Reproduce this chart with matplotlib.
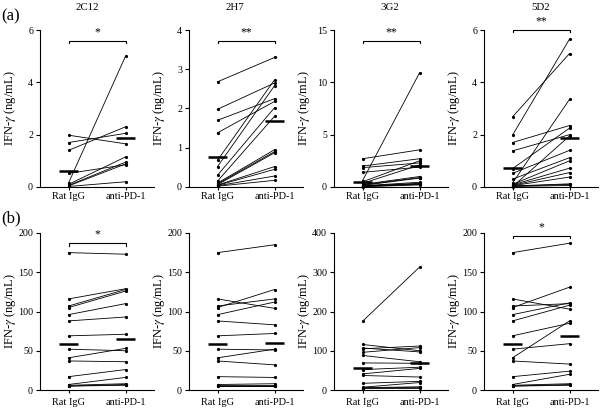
import matplotlib
matplotlib.use('Agg')
import matplotlib.pyplot as plt
import numpy as np

plt.rcParams['font.family'] = ['Liberation Serif', 'DejaVu Serif']
plt.rcParams['mathtext.fontset'] = 'stix'

# ---------------- data ----------------
groups = ['Rat IgG', 'anti-PD-1']
clones = ['2C12', '2H7', '3G2', '5D2']

# Row (a) values (ng/mL), paired: rat[i] -> anti[i]
a_rat_2C12 = [1.98, 1.70, 1.40, 0.52, 0.15, 0.10, 0.06, 0.04, 0.02]
a_anti_2C12 = [1.65, 2.05, 2.30, 0.85, 5.00, 1.15, 0.95, 0.88, 0.20]
a_rat_2H7 = [2.68, 1.98, 1.70, 1.38, 0.68, 0.52, 0.30, 0.15, 0.10, 0.08, 0.06, 0.05, 0.04, 0.03, 0.02]
a_anti_2H7 = [3.30, 2.65, 2.25, 2.18, 2.73, 2.58, 2.02, 1.80, 0.95, 0.90, 0.87, 0.52, 0.45, 0.28, 0.17]
a_rat_3G2 = [2.70, 2.00, 1.85, 1.40, 0.60, 0.50, 0.35, 0.25, 0.20, 0.15, 0.12, 0.10, 0.08, 0.05, 0.03]
a_anti_3G2 = [3.55, 2.70, 2.30, 1.90, 10.90, 2.50, 2.10, 1.00, 0.90, 0.85, 0.45, 0.35, 0.30, 0.25, 0.20]
a_rat_5D2 = [2.68, 1.98, 1.70, 1.38, 0.70, 0.52, 0.30, 0.15, 0.10, 0.08, 0.06, 0.05, 0.04, 0.03, 0.02, 0.01]
a_anti_5D2 = [5.10, 5.65, 2.35, 2.00, 2.25, 1.40, 1.12, 3.35, 1.00, 0.72, 0.55, 0.38, 0.12, 0.10, 0.06, 1.95]
a_means = [(0.63, 1.88), (0.77, 1.68), (0.52, 2.05), (0.72, 1.88)]
a_ymax = [6, 4, 15, 6]
a_yticks = [[0, 2, 4, 6], [0, 1, 2, 3, 4], [0, 5, 10, 15], [0, 2, 4, 6]]
a_stars = ['*', '**', '**', '**']
a_bracket = [5.58, 3.72, 13.95, 6.0]

# Row (b) values (ng/mL)
b_rat = [175, 116, 107, 105, 96, 88, 69, 52, 41, 37, 17, 7, 6, 5, 5]
b_anti_2C12 = [173, 129, 128, 126, 110, 93, 71, 50, 53, 36, 26, 16, 8, 7, 6]
b_anti_2H7 = [185, 104, 116, 128, 112, 83, 72, 51, 52, 32, 16, 8, 6, 5, 5]
b_anti_3G2 = [313, 100, 97, 112, 108, 72, 68, 58, 55, 33, 22, 19, 8, 7, 5]
b_anti_5D2 = [187, 103, 110, 131, 111, 108, 85, 59, 88, 33, 24, 20, 8, 7, 6]
b_means = [(58.5, 64.5), (58.5, 60.5), (57, 68), (58.5, 69)]
b_ymax = [200, 200, 400, 200]
b_yticks = [[0, 50, 100, 150, 200], [0, 50, 100, 150, 200], [0, 100, 200, 300, 400], [0, 50, 100, 150, 200]]
b_stars = ['*', '', '', '*']
b_bracket = [187, None, None, 196]

row_a = [(a_rat_2C12, a_anti_2C12), (a_rat_2H7, a_anti_2H7), (a_rat_3G2, a_anti_3G2), (a_rat_5D2, a_anti_5D2)]
row_b = [(b_rat, b_anti_2C12), (b_rat, b_anti_2H7), (b_rat, b_anti_3G2), (b_rat, b_anti_5D2)]

# ---------------- layout ----------------
W, H = 600, 408
fig = plt.figure(figsize=(W / 100, H / 100), dpi=100)
lefts = [40, 189, 334, 484]
row_px = [(30, 187), (233, 390)]
axw = 114
title_x = [87, 235, 390, 541]

def draw(ax, rat, anti, means, ymax, yticks, star, bracket, xpad):
    for r, a in zip(rat, anti):
        ax.plot([0, 1], [r, a], color='black', lw=0.6, marker='o', ms=2.3, mew=0,
                mfc='black', clip_on=False, zorder=3)
    for i, m in enumerate(means):
        ax.plot([i - 0.17, i + 0.17], [m, m], color='black', lw=1.8, solid_capstyle='butt', zorder=4)
    ax.set_xlim(-0.5, 1.5)
    ax.set_ylim(0, ymax)
    ax.set_yticks(yticks)
    ax.set_xticks([0, 1])
    ax.set_xticklabels(groups)
    for s in ['top', 'right']:
        ax.spines[s].set_visible(False)
    for s in ['left', 'bottom']:
        ax.spines[s].set_linewidth(0.8)
    ax.tick_params(axis='y', direction='out', length=3, width=0.8, labelsize=7.2, pad=2)
    ax.tick_params(axis='x', direction='out', length=2, width=0.8, labelsize=7.4, pad=xpad)
    ax.set_ylabel('IFN-$\\gamma$ (ng/mL)', fontsize=9)
    ax.yaxis.set_label_coords(-0.195, 0.5)
    if star:
        d = ymax * 0.015
        ax.plot([0, 0, 1, 1], [bracket - d, bracket, bracket, bracket - d], color='black', lw=0.8, clip_on=False)
        ax.text(0.5, bracket + ymax * 0.02, star, ha='center', va='bottom', fontsize=8.5, clip_on=False)

for j in range(4):
    top, bot = row_px[0]
    ax = fig.add_axes([lefts[j] / W, 1 - bot / H, axw / W, (bot - top) / H])
    draw(ax, row_a[j][0], row_a[j][1], a_means[j], a_ymax[j], a_yticks[j], a_stars[j], a_bracket[j], 1.5)
    fig.text(title_x[j] / W, 1 - 8 / H, clones[j], ha='center', va='center', fontsize=7.8)

    top, bot = row_px[1]
    ax = fig.add_axes([lefts[j] / W, 1 - bot / H, axw / W, (bot - top) / H])
    draw(ax, row_b[j][0], row_b[j][1], b_means[j], b_ymax[j], b_yticks[j], b_stars[j], b_bracket[j], 3.5)

fig.text(11 / W, 1 - 16 / H, '(a)', ha='center', va='center', fontsize=12)
fig.text(11 / W, 1 - 218 / H, '(b)', ha='center', va='center', fontsize=12)

fig.savefig('out.png', dpi=100)
